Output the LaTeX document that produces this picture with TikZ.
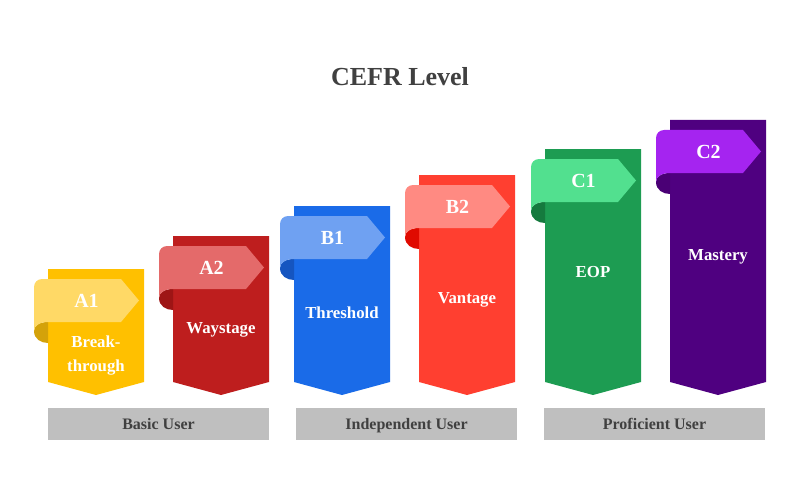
\documentclass[tikz,border=0pt]{standalone}
\usepackage{fontspec}
\setmainfont{Liberation Serif}
\definecolor{txtgray}{HTML}{404040}
\definecolor{bargray}{HTML}{BFBFBF}
\definecolor{aCol}{HTML}{FFC000}\definecolor{aRib}{HTML}{FFD966}\definecolor{aFold}{HTML}{D4A20A}
\definecolor{bCol}{HTML}{BE1E1E}\definecolor{bRib}{HTML}{E46A6A}\definecolor{bFold}{HTML}{9E1515}
\definecolor{cCol}{HTML}{1A6BE8}\definecolor{cRib}{HTML}{6FA1F2}\definecolor{cFold}{HTML}{1555C0}
\definecolor{dCol}{HTML}{FF3F30}\definecolor{dRib}{HTML}{FF8A82}\definecolor{dFold}{HTML}{E00A00}
\definecolor{eCol}{HTML}{1D9C52}\definecolor{eRib}{HTML}{52E08F}\definecolor{eFold}{HTML}{157A3E}
\definecolor{fCol}{HTML}{4F0080}\definecolor{fRib}{HTML}{A524F0}\definecolor{fFold}{HTML}{4A0075}
\tikzset{
  lvltext/.style={text=white,font=\bfseries\fontsize{20}{22}\selectfont,inner sep=0pt,text height=13pt,text depth=0pt},
  nametext/.style={text=white,font=\bfseries\fontsize{16.8}{24}\selectfont,align=center,inner sep=0pt},
  namefix/.style={text height=11pt,text depth=0pt},
  bartext/.style={text=txtgray,font=\bfseries\fontsize{16}{18}\selectfont,inner sep=0pt,text height=11pt,text depth=0pt},
  userbar/.style={fill=bargray,draw=none},
}
% #1 id, #2 left x, #3 top y, #4 column, #5 ribbon, #6 fold, #7 label, #8 name, #9 name y
\newcommand\cefrcolumn[9]{%
  \begin{scope}[shift={(#2,0)}]
    \fill[#4] (0,#3) -- (96,#3) -- (96,382) -- (48,395) -- (0,382) -- cycle;
    \fill[#6] (0,#3+53) .. controls (-9,#3+53) and (-14,#3+57) .. (-14,#3+62)
      .. controls (-14,#3+70) and (-7,#3+74) .. (0,#3+74) -- cycle;
    \fill[#5] (-14,#3+62) [rounded corners=8pt] -- (-14,#3+10) [sharp corners] -- (73,#3+10)
      -- (91,#3+31.5) -- (73,#3+53) -- (0,#3+53)
      .. controls (-9,#3+53) and (-14,#3+57) .. (-14,#3+62) -- cycle;
    \node[lvltext] (#1lab) at (38.5,#3+31.5) {#7};
    \node[nametext,namefix] (#1name) at (48,#9) {#8};
  \end{scope}}
\begin{document}
\begin{tikzpicture}[x=1pt,y=-1pt]
\useasboundingbox (0,0) rectangle (800,500);
\node[text=txtgray,font=\bfseries\fontsize{26}{30}\selectfont,inner sep=0pt] (title) at (400,77) {CEFR Level};
{\tikzset{namefix/.style={}}
\cefrcolumn{a1}{48}{269}{aCol}{aRib}{aFold}{A1}{Break-\\through}{356}}
\cefrcolumn{a2}{173}{236}{bCol}{bRib}{bFold}{A2}{Waystage}{328}
\cefrcolumn{b1}{294}{206}{cCol}{cRib}{cFold}{B1}{Threshold}{313}
\cefrcolumn{b2}{419}{175}{dCol}{dRib}{dFold}{B2}{Vantage}{298}
\cefrcolumn{c1}{545}{149}{eCol}{eRib}{eFold}{C1}{EOP}{272}
\cefrcolumn{c2}{670}{120}{fCol}{fRib}{fFold}{C2}{Mastery}{255}
\fill[userbar] (48,408) rectangle (269,440);
\fill[userbar] (296,408) rectangle (517,440);
\fill[userbar] (544,408) rectangle (765,440);
\node[bartext] (basic) at (158.5,424) {Basic User};
\node[bartext] (indep) at (406.5,424) {Independent User};
\node[bartext] (prof) at (654.5,424) {Proficient User};
\end{tikzpicture}
\end{document}
